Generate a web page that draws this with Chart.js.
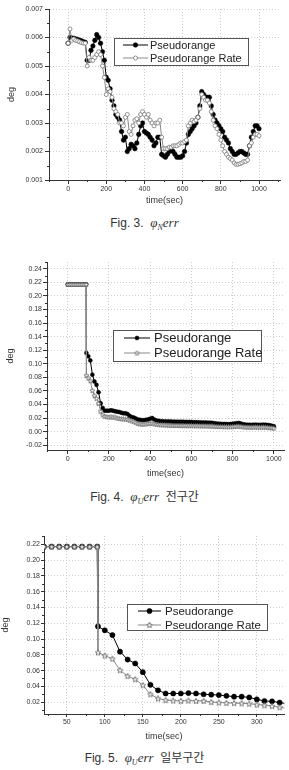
<!DOCTYPE html>
<html>
<head>
<meta charset="utf-8">
<script src="https://cdn.jsdelivr.net/npm/chart.js@4.4.0/dist/chart.umd.min.js"></script>
<style>
    body { margin: 0; background: #fff; width: 289px; height: 770px; position: relative; overflow: hidden; font-family: Arial, "Liberation Sans", sans-serif; }
    canvas { position: absolute; left: 0; }
    .cap { position: absolute; left: 0; width: 289px; text-align: center; font-size: 12px; line-height: 14px; color: #333; white-space: nowrap; }
    .m { font-family: "Liberation Serif", "DejaVu Serif", serif; font-style: italic; font-size: 13px; }
    .m sub { font-size: 8px; vertical-align: baseline; position: relative; top: 3px; }
    .ko { font-family: "Noto Sans CJK KR", sans-serif; font-size: 12px; }
</style>
</head>
<body>
<canvas id="figN" width="289" height="210" style="top:0px"></canvas>
<div class="cap" style="top:216px">Fig. 3.&nbsp; <span class="m">φ<sub>N</sub>err</span></div>

<canvas id="figUFull" width="289" height="235" style="top:250px"></canvas>
<div class="cap" style="top:489px">Fig. 4.&nbsp; <span class="m">φ<sub>U</sub>err</span>&nbsp; <span class="ko">전구간</span></div>

<canvas id="figUPart" width="289" height="220" style="top:525px"></canvas>
<div class="cap" style="top:750px">Fig. 5.&nbsp; <span class="m">φ<sub>U</sub>err</span>&nbsp; <span class="ko">일부구간</span></div>

<script>
// ---- data ----
const timeN = [
    0, 10, 20, 30, 40, 50, 60, 70, 80, 90,
    100, 110, 120, 130, 140, 150, 160, 170, 180, 190,
    200, 210, 220, 230, 240, 250, 260, 270, 280, 290,
    300, 310, 320, 330, 340, 350, 360, 370, 380, 390,
    400, 410, 420, 430, 440, 450, 460, 470, 480, 490,
    500, 510, 520, 530, 540, 550, 560, 570, 580, 590,
    600, 610, 620, 630, 640, 650, 660, 670, 680, 690,
    700, 710, 720, 730, 740, 750, 760, 770, 780, 790,
    800, 810, 820, 830, 840, 850, 860, 870, 880, 890,
    900, 910, 920, 930, 940, 950, 960, 970, 980, 990,
    1000
];
const pseudoN = [
    0.0058, 0.0060, 0.00598, 0.00597, 0.00595, 0.00593, 0.0059, 0.00588, 0.00585, 0.00583,
    0.0052, 0.0052, 0.00555, 0.0057, 0.0059, 0.0061, 0.0060, 0.0058, 0.0055, 0.0052,
    0.0046, 0.0045, 0.0042, 0.0038, 0.0036, 0.0033, 0.0032, 0.0031, 0.0027, 0.0024,
    0.0025, 0.0020, 0.0021, 0.00225, 0.0022, 0.0021, 0.0023, 0.0026, 0.0029, 0.0030,
    0.0027, 0.00265, 0.0026, 0.0025, 0.0024, 0.0022, 0.0023, 0.0025, 0.0025, 0.0019,
    0.00185, 0.0018, 0.0019, 0.0020, 0.00205, 0.0020, 0.0019, 0.0018, 0.0018, 0.0018,
    0.00185, 0.0020, 0.0023, 0.0026, 0.0027, 0.0028, 0.0029, 0.0030, 0.0032, 0.0036,
    0.0041, 0.0040, 0.0039, 0.0039, 0.0039, 0.0036, 0.0033, 0.0031, 0.0030, 0.0029,
    0.0028, 0.0027, 0.0025, 0.0024, 0.0023, 0.0021, 0.0020, 0.0019, 0.0019, 0.00195,
    0.0020, 0.0020, 0.00195, 0.0019, 0.0019, 0.0022, 0.0025, 0.0027, 0.0029, 0.0029,
    0.0028
];
const rateN = [
    0.0058, 0.0063, 0.0059, 0.00595, 0.0059, 0.00588, 0.00585, 0.00582, 0.0058, 0.0058,
    0.0050, 0.0053, 0.0052, 0.0052, 0.0053, 0.0054, 0.0055, 0.0054, 0.0050, 0.0046,
    0.0040, 0.0042, 0.0041, 0.0039, 0.0035, 0.0034, 0.0033, 0.0030, 0.0030, 0.0029,
    0.0032, 0.0033, 0.0027, 0.0026, 0.0029, 0.0031, 0.00315, 0.0030, 0.0033, 0.0034,
    0.0033, 0.0032, 0.0033, 0.0031, 0.0030, 0.0029, 0.0030, 0.0030, 0.0031, 0.0025,
    0.0021, 0.0021, 0.0021, 0.00215, 0.00215, 0.0022, 0.0022, 0.0022, 0.00225, 0.0023,
    0.0023, 0.00235, 0.0024, 0.0029, 0.0030, 0.0031, 0.00305, 0.0031, 0.0032, 0.0035,
    0.0040, 0.0039, 0.0038, 0.0038, 0.0037, 0.0034, 0.0031, 0.0029, 0.0028, 0.0026,
    0.0024, 0.0022, 0.0020, 0.0019, 0.0018, 0.00175, 0.0017, 0.0016, 0.00155, 0.00155,
    0.00157, 0.0016, 0.00165, 0.00165, 0.0017, 0.0022, 0.0023, 0.0025, 0.0026, 0.0026,
    0.00255
];

const timeU = [
    0, 10, 20, 30, 40, 50, 60, 70, 80, 90, 91,
    100, 110, 120, 130, 140, 150, 160, 170, 180, 190,
    200, 210, 220, 230, 240, 250, 260, 270, 280, 290,
    300, 310, 320, 330, 340, 350, 360, 370, 380, 390,
    400, 410, 420, 430, 440, 450, 460, 470, 480, 490,
    500, 510, 520, 530, 540, 550, 560, 570, 580, 590,
    600, 610, 620, 630, 640, 650, 660, 670, 680, 690,
    700, 710, 720, 730, 740, 750, 760, 770, 780, 790,
    800, 810, 820, 830, 840, 850, 860, 870, 880, 890,
    900, 910, 920, 930, 940, 950, 960, 970, 980, 990,
    1000
];
const pseudoU = [
    0.217, 0.217, 0.217, 0.217, 0.217, 0.217, 0.217, 0.217, 0.217, 0.217, 0.116,
    0.111, 0.105, 0.084, 0.074, 0.069, 0.058, 0.042, 0.035, 0.031, 0.031,
    0.031, 0.0315, 0.031, 0.030, 0.0295, 0.029, 0.028, 0.027, 0.027, 0.026,
    0.0235, 0.0215, 0.021, 0.0195, 0.018, 0.0175, 0.017, 0.017, 0.0175, 0.018,
    0.019, 0.020, 0.018, 0.0165, 0.016, 0.0155, 0.0155, 0.015, 0.015, 0.015,
    0.015, 0.0148, 0.0148, 0.0146, 0.0146, 0.0145, 0.0145, 0.0144, 0.0143, 0.0143,
    0.0142, 0.014, 0.014, 0.0138, 0.0137, 0.0135, 0.0134, 0.0134, 0.0133, 0.0132,
    0.013, 0.0125, 0.012, 0.0118, 0.0115, 0.0113, 0.0112, 0.0112, 0.0111, 0.0112,
    0.0115, 0.012, 0.0125, 0.0128, 0.012, 0.011, 0.0105, 0.0102, 0.0101, 0.010,
    0.0102, 0.0103, 0.0101, 0.010, 0.0101, 0.0103, 0.0102, 0.0098, 0.0093, 0.0087,
    0.008
];
const rateU = [
    0.217, 0.217, 0.217, 0.217, 0.217, 0.217, 0.217, 0.217, 0.217, 0.217, 0.083,
    0.079, 0.075, 0.0605, 0.053, 0.049, 0.0415, 0.030, 0.0247, 0.0225, 0.022,
    0.0215, 0.022, 0.0215, 0.0215, 0.020, 0.0195, 0.019, 0.0188, 0.0185, 0.018,
    0.017, 0.016, 0.015, 0.0135, 0.012, 0.0115, 0.0112, 0.0112, 0.0115, 0.012,
    0.0122, 0.0125, 0.0115, 0.0108, 0.0105, 0.0102, 0.0101, 0.010, 0.0098, 0.0095,
    0.0093, 0.0092, 0.0092, 0.0091, 0.0091, 0.009, 0.009, 0.009, 0.0089, 0.0089,
    0.0089, 0.0088, 0.0088, 0.0087, 0.0087, 0.0086, 0.0086, 0.0085, 0.0085, 0.0084,
    0.0083, 0.008, 0.0078, 0.0077, 0.0076, 0.0075, 0.0074, 0.0074, 0.0073, 0.0074,
    0.0076, 0.0078, 0.008, 0.0082, 0.0078, 0.0072, 0.007, 0.0068, 0.0068, 0.0067,
    0.0068, 0.0069, 0.0068, 0.0067, 0.0067, 0.0068, 0.0067, 0.0064, 0.006, 0.0057,
    0.0052
];

const seriesNames = ['Pseudorange', 'Pseudorange Rate'];
const xTicksFull = [0, 200, 400, 600, 800, 1000];
const xTicksPart = [50, 100, 150, 200, 250, 300];
const yTicksN = [0.001, 0.002, 0.003, 0.004, 0.005, 0.006, 0.007];
const yTicksUFull = [-0.02, 0.00, 0.02, 0.04, 0.06, 0.08, 0.10, 0.12, 0.14, 0.16, 0.18, 0.20, 0.22, 0.24];
const yTicksUPart = [0.02, 0.04, 0.06, 0.08, 0.10, 0.12, 0.14, 0.16, 0.18, 0.20, 0.22];

// ---- helpers ----
const toPoints = (xs, ys) => xs.map((x, i) => ({ x, y: ys[i] }));

const starMark = (size) => {
    const c = document.createElement('canvas');
    c.width = c.height = size + 2;
    const g = c.getContext('2d');
    const r = size / 2, cx = c.width / 2, cy = c.height / 2 + 0.3;
    g.beginPath();
    for (let i = 0; i < 10; i++) {
        const a = -Math.PI / 2 + i * Math.PI / 5;
        const rr = i % 2 ? r * 0.45 : r;
        g.lineTo(cx + rr * Math.cos(a), cy + rr * Math.sin(a));
    }
    g.closePath();
    g.fillStyle = '#fff';
    g.fill();
    g.strokeStyle = '#6e6e6e';
    g.lineWidth = 0.9;
    g.stroke();
    return c;
};

// legend drawn as a framed box inside the plot, like the original figures
const boxLegend = {
    id: 'boxLegend',
    afterDraw(chart, args, o) {
        const ctx = chart.ctx;
        ctx.save();
        ctx.fillStyle = '#fff';
        ctx.fillRect(o.x, o.y, o.w, o.h);
        ctx.strokeStyle = '#555';
        ctx.lineWidth = 1;
        ctx.strokeRect(o.x + 0.5, o.y + 0.5, o.w, o.h);
        chart.data.datasets.forEach((ds, i) => {
            const y = o.y + o.rows[i];
            ctx.strokeStyle = ds.borderColor;
            ctx.lineWidth = 1;
            ctx.beginPath();
            ctx.moveTo(o.x + o.line[0], y);
            ctx.lineTo(o.x + o.line[1], y);
            ctx.stroke();
            ctx.fillStyle = ds.pointBackgroundColor;
            ctx.strokeStyle = ds.pointBorderColor;
            ctx.lineWidth = ds.pointBorderWidth;
            Chart.helpers.drawPoint(ctx, {
                pointStyle: ds.pointStyle, radius: ds.pointRadius,
                borderWidth: ds.pointBorderWidth, rotation: 0
            }, o.x + (o.line[0] + o.line[1]) / 2, y);
            ctx.fillStyle = '#222';
            ctx.font = o.font;
            ctx.textBaseline = 'middle';
            ctx.textAlign = 'left';
            ctx.fillText(ds.label, o.x + o.text, y + 0.5);
        });
        ctx.restore();
    }
};

// small minor ticks half way between the major ones
const minorTicks = {
    id: 'minorTicks',
    afterDraw(chart, args, o) {
        const ctx = chart.ctx;
        ctx.save();
        ctx.strokeStyle = '#333';
        ctx.lineWidth = 1;
        ['x', 'y'].forEach(k => {
            const s = chart.scales[k];
            const v = s.ticks.map(t => t.value);
            if (v.length < 2) return;
            const half = (v[1] - v[0]) / 2;
            const marks = [];
            for (let i = 0; i < v.length - 1; i++) marks.push(v[i] + half);
            if (v[0] - half >= s.min) marks.unshift(v[0] - half);
            if (v[v.length - 1] + half <= s.max) marks.push(v[v.length - 1] + half);
            marks.forEach(m => {
                const p = Math.round(s.getPixelForValue(m)) + 0.5;
                ctx.beginPath();
                if (k === 'x') {
                    ctx.moveTo(p, s.top);
                    ctx.lineTo(p, s.top + o.len);
                } else {
                    ctx.moveTo(s.right, p);
                    ctx.lineTo(s.right - o.len, p);
                }
                ctx.stroke();
            });
        });
        ctx.restore();
    }
};

const drawFigure = (canvasId, f) => {
    const tickFont = { family: 'Arial, "Liberation Sans", sans-serif', size: 7 };
    const titleFont = { family: 'Arial, "Liberation Sans", sans-serif', size: 9 };
    const grid = { color: '#cdcdcd', tickColor: '#333', tickLength: f.tickLen, lineWidth: 1 };
    const border = { color: '#333', width: 1, dash: [1, 2] };

    new Chart(document.getElementById(canvasId), {
        type: 'line',
        data: {
            datasets: [
                {
                    label: seriesNames[0],
                    data: toPoints(f.time, f.pseudo),
                    borderColor: '#000',
                    borderWidth: 1,
                    pointStyle: 'circle',
                    pointRadius: f.dot,
                    pointBackgroundColor: '#000',
                    pointBorderColor: '#000',
                    pointBorderWidth: 0.5,
                    order: 2
                },
                {
                    label: seriesNames[1],
                    data: toPoints(f.time, f.rate),
                    borderColor: '#8a8a8a',
                    borderWidth: 1,
                    pointStyle: f.rateMark,
                    pointRadius: f.open,
                    pointBackgroundColor: '#fff',
                    pointBorderColor: '#777',
                    pointBorderWidth: 0.8,
                    order: 1
                }
            ]
        },
        options: {
            responsive: false,
            animation: false,
            devicePixelRatio: 1,
            layout: { padding: f.pad },
            plugins: {
                legend: { display: false },
                tooltip: { enabled: false },
                boxLegend: f.legend,
                minorTicks: { len: 2 }
            },
            scales: {
                x: {
                    type: 'linear',
                    min: f.xMin,
                    max: f.xMax,
                    afterFit: s => { s.height = f.xAxisH; },
                    afterBuildTicks: s => { s.ticks = f.xTicks.map(value => ({ value })); },
                    grid, border,
                    ticks: { font: tickFont, color: '#333', padding: 1, maxRotation: 0, autoSkip: false, callback: v => String(v) },
                    title: { display: true, text: 'time(sec)', font: titleFont, color: '#333', padding: { top: 0, bottom: f.xTitlePad } }
                },
                y: {
                    type: 'linear',
                    min: f.yMin,
                    max: f.yMax,
                    afterFit: s => { s.width = f.yAxisW; },
                    afterBuildTicks: s => { s.ticks = f.yTicks.map(value => ({ value })); },
                    grid, border,
                    ticks: { font: tickFont, color: '#333', padding: f.yTickPad, autoSkip: false, callback: v => v.toFixed(f.digits) },
                    title: { display: true, text: 'deg', font: titleFont, color: '#333', padding: { top: f.yTitlePad, bottom: 0 } }
                }
            }
        },
        plugins: [boxLegend, minorTicks]
    });
};

const renderFigures = () => {
    drawFigure('figN', {
        time: timeN, pseudo: pseudoN, rate: rateN,
        xMin: -100, xMax: 1110, yMin: 0.001, yMax: 0.007,
        xTicks: xTicksFull, yTicks: yTicksN, digits: 3,
        pad: { top: 9, right: 9, left: 0, bottom: 0 },
        xAxisH: 30, yAxisW: 49, tickLen: 4, yTickPad: 2, xTitlePad: 4, yTitlePad: 6,
        dot: 2.3, open: 2, rateMark: 'circle',
        legend: { x: 114, y: 38, w: 134, h: 27, rows: [7, 20], line: [9, 34], text: 36, font: '11px Arial, "Liberation Sans", sans-serif' }
    });

    drawFigure('figUFull', {
        time: timeU, pseudo: pseudoU, rate: rateU,
        xMin: -100, xMax: 1050, yMin: -0.027, yMax: 0.25,
        xTicks: xTicksFull, yTicks: yTicksUFull, digits: 2,
        pad: { top: 12, right: 0, left: 0, bottom: 0 },
        xAxisH: 35, yAxisW: 47, tickLen: 4, yTickPad: 1, xTitlePad: 6, yTitlePad: 5,
        dot: 2, open: 2, rateMark: starMark(5),
        legend: { x: 113, y: 80, w: 148, h: 31, rows: [8, 23], line: [11, 37], text: 41, font: '13px Arial, "Liberation Sans", sans-serif' }
    });

    drawFigure('figUPart', {
        time: timeU, pseudo: pseudoU, rate: rateU,
        xMin: 20, xMax: 336, yMin: 0.005, yMax: 0.2305,
        xTicks: xTicksPart, yTicks: yTicksUPart, digits: 2,
        pad: { top: 11, right: 4, left: 0, bottom: 0 },
        xAxisH: 31, yAxisW: 44, tickLen: 3, yTickPad: 1, xTitlePad: 3, yTitlePad: 0,
        dot: 2.6, open: 3, rateMark: starMark(6),
        legend: { x: 127, y: 79, w: 140, h: 26, rows: [7, 21], line: [11, 34], text: 38, font: '11.5px Arial, "Liberation Sans", sans-serif' }
    });
};

document.addEventListener('DOMContentLoaded', renderFigures);
</script>
</body>
</html>
